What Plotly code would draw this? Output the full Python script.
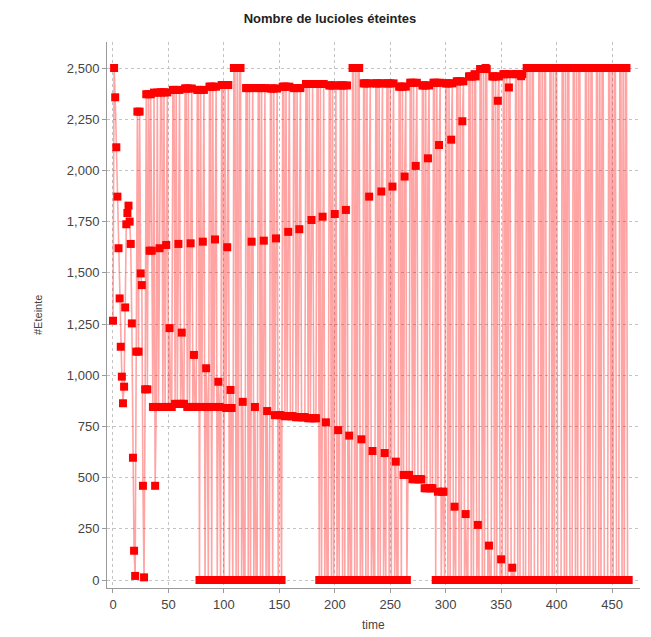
import plotly.graph_objects as go

# ---- data ----
# first 43 steps (t = 0 .. 42), transient phase
initial_values = [1266, 2500, 2357, 2113, 1872, 1620, 1375, 1139, 993, 863, 944,
                  1331, 1737, 1792, 1828, 1750, 1641, 1253, 597, 143, 20,
                  1115, 2287, 1115, 2287, 1497, 1440, 460, 13, 931, 2372,
                  931, 2372, 1608, 2372, 1608, 845, 2380, 460, 845, 2380, 845, 1620]

# then one entry per flashing cycle
cycle_len = [11, 11, 11, 11, 11, 11, 11, 11, 11, 11,
             10, 11, 10, 11, 10, 11, 10, 11, 10, 11,
             10, 11, 10, 11, 10, 11, 10, 11, 10, 11,
             10, 11, 10, 11, 10, 11, 10, 11, 10, 9]
top_band = [2381, 2393, 2400, 2393, 2409, 2417, 2500, 2402, 2402, 2400,
            2409, 2402, 2422, 2422, 2415, 2415, 2500, 2425, 2425, 2425,
            2409, 2428, 2415, 2428, 2425, 2435, 2459, 2495, 2459, 2470,
            2470, 2500, 2500, 2500, 2500, 2500, 2500, 2500, 2500, 2500]
mid_band = [1636, 1641, 1644, 1652, 1663, 1625, 2500, 1652, 1657, 1668,
            1700, 1713, 1758, 1774, 1787, 1807, 2500, 1872, 1897, 1921,
            1970, 2022, 2059, 2124, 2150, 2240, 2470, 2500, 2340, 2405,
            2460, 2500, 2500, 2500, 2500, 2500, 2500, 2500, 2500, 2500]
falling_band = [1230, 1208, 1099, 1034, 968, 928, 870, 845, 825, 805,
                800, 795, 790, 770, 732, 705, 687, 630, 620, 578,
                513, 492, 448, 431, 358, 322, 269, 168, 101, 60,
                0, 0, 0, 0, 0, 0, 0, 0, 0, 0]
second_low = [845, 860, 845, 845, 845, 840, 0, 0, 0, 805,
              800, 795, 790, 0, 0, 0, 0, 0, 0, 0,
              513, 492, 448, 431, 0, 0, 0, 0, 0, 0,
              0, 0, 0, 0, 0, 0, 0, 0, 0, 0]
lowest = [845, 860, 845, 0, 0, 0, 0, 0, 0, 0,
          800, 795, 790, 0, 0, 0, 0, 0, 0, 0,
          0, 492, 448, 0, 0, 0, 0, 0, 0, 0,
          0, 0, 0, 0, 0, 0, 0, 0, 0, 0]
# order in which the bands are visited inside a cycle
cycle_order = "AALAMBALCML"

# ---- assemble the series ----
values = list(initial_values)
for i, n in enumerate(cycle_len):
    band = {"A": top_band[i], "B": mid_band[i], "C": falling_band[i],
            "M": second_low[i], "L": lowest[i]}
    for ch in cycle_order[:n]:
        values.append(band[ch])
times = list(range(len(values)))

x_ticks = list(range(0, 451, 50))
y_ticks = list(range(0, 2501, 250))

fig = go.Figure()
fig.add_trace(go.Scatter(
    x=times, y=values, mode="lines+markers",
    line=dict(color="rgba(255,0,0,0.36)", width=1.6),
    marker=dict(symbol="square", size=8, color="#ff0000"),
    showlegend=False, hoverinfo="x+y"))

font_family = "Liberation Sans, Arial, sans-serif"
# the page body has an 8px margin, so the figure is 8px smaller and shifted
W, H = 643, 629
L, T, B, R = 99, 34, 49, 11
pw, ph = W - L - R, H - T - B
fig.update_layout(
    width=W, height=H,
    margin=dict(l=L, r=R, t=T, b=B),
    paper_bgcolor="white", plot_bgcolor="white",
    title=dict(text="<b>Nombre de lucioles éteintes</b>", x=322 / W, xanchor="center",
               y=1 - 10 / H, yanchor="middle",
               font=dict(family=font_family, size=13, color="#222")),
    font=dict(family=font_family, size=13, color="#444"),
    xaxis=dict(range=[-5.4, 475.2], tickvals=x_ticks, showgrid=True,
               gridcolor="#c4c4c4", griddash="dot", gridwidth=1,
               showline=True, linecolor="#9a9a9a", linewidth=1,
               ticks="outside", ticklen=4, tickcolor="#9a9a9a",
               zeroline=False, tickfont=dict(size=13, color="#444")),
    yaxis=dict(range=[-39, 2627], tickvals=y_ticks, tickformat=",d", showgrid=True,
               gridcolor="#c4c4c4", griddash="dot", gridwidth=1,
               showline=True, linecolor="#9a9a9a", linewidth=1,
               ticks="outside", ticklen=4, tickcolor="#9a9a9a",
               zeroline=False, tickfont=dict(size=13, color="#444")),
    annotations=[
        dict(text="time", xref="paper", yref="paper", x=0.5, y=-(617 - (H - B)) / ph,
             xanchor="center", yanchor="middle", showarrow=False,
             font=dict(family=font_family, size=12, color="#444")),
        dict(text="#Eteinte", xref="paper", yref="paper", x=-(L - 30) / pw, y=0.5,
             xanchor="center", yanchor="middle", showarrow=False, textangle=-90,
             font=dict(family=font_family, size=11, color="#444")),
    ],
)

fig.write_html("out.html")
